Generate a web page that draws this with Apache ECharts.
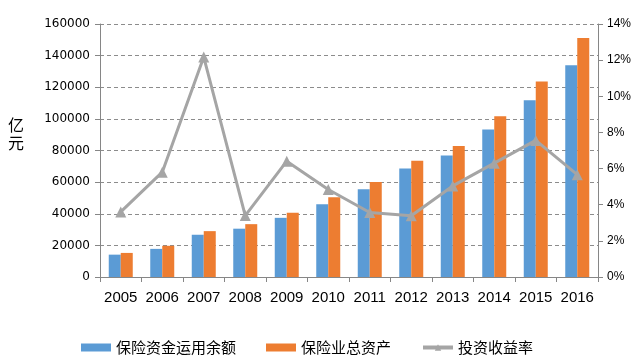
<!DOCTYPE html>
<html>
<head>
<meta charset="utf-8">
<script src="https://cdn.jsdelivr.net/npm/echarts@6/dist/echarts.min.js"></script>
<style>
html,body{margin:0;padding:0;background:#fff;}
#c{width:638px;height:364px;}
</style>
</head>
<body>
<div id="c"></div>
<script>
var years = ['2005','2006','2007','2008','2009','2010','2011','2012','2013','2014','2015','2016'];
var fundBalance = [14136, 17785, 26721, 30552, 37417, 46047, 55473, 68543, 76873, 93314, 111795, 133910];
var totalAssets = [15226, 19731, 29004, 33418, 40635, 50481, 60138, 73546, 82887, 101591, 123598, 151169];
var yieldRate = [3.6, 5.8, 12.17, 3.4, 6.41, 4.84, 3.57, 3.39, 5.04, 6.30, 7.56, 5.66];
var seriesNames = ['保险资金运用余额', '保险业总资产', '投资收益率'];
var unitChars = ['亿', '元'];

var chart = echarts.init(document.getElementById('c'));
var axisGray = '#868686';
chart.setOption({
  animation: false,
  backgroundColor: '#fff',
  grid: {left: 100, right: 40, top: 24, bottom: 87},
  legend: {
    left: 76, bottom: 4,
    itemWidth: 30, itemHeight: 8, itemGap: 30,
    textStyle: {fontSize: 15, color: '#000', fontFamily: 'Noto Sans CJK SC'},
    data: [
      {name: seriesNames[0], icon: 'rect'},
      {name: seriesNames[1], icon: 'rect'},
      {name: seriesNames[2], itemStyle: {color: '#A5A5A5'}, lineStyle: {width: 4, color: '#A5A5A5'}}
    ]
  },
  graphic: [{
    type: 'text', left: 8, top: 117,
    style: {text: unitChars[0], fontSize: 16, fill: '#000', fontFamily: 'Noto Sans CJK SC'}
  }, {
    type: 'text', left: 8, top: 135,
    style: {text: unitChars[1], fontSize: 16, fill: '#000', fontFamily: 'Noto Sans CJK SC'}
  }],
  xAxis: {
    type: 'category', data: years, boundaryGap: true,
    axisLine: {lineStyle: {color: axisGray}},
    axisTick: {show: true, alignWithLabel: false, interval: 0, length: 5, lineStyle: {color: axisGray}},
    axisLabel: {interval: 0, fontSize: 15, color: '#000', margin: 13, fontFamily: 'Liberation Sans'}
  },
  yAxis: [{
    type: 'value', min: 0, max: 160000, interval: 20000,
    axisLine: {show: true, lineStyle: {color: axisGray}},
    axisTick: {show: true, length: 5, lineStyle: {color: axisGray}},
    axisLabel: {fontSize: 12, color: '#000', margin: 10, fontFamily: 'DejaVu Sans', formatter: function (v) { return String(v); }},
    splitLine: {show: true, lineStyle: {color: '#8c8c8c', type: [4, 3]}}
  }, {
    type: 'value', min: 0, max: 14, interval: 2, position: 'right',
    axisLine: {show: true, lineStyle: {color: axisGray}},
    axisTick: {show: true, length: 5, lineStyle: {color: axisGray}},
    axisLabel: {fontSize: 12, color: '#000', margin: 9, fontFamily: 'Liberation Sans', formatter: '{value}%'},
    splitLine: {show: false}
  }],
  series: [{
    name: seriesNames[0], type: 'bar', data: fundBalance,
    barWidth: 12, barGap: '0%',
    itemStyle: {color: '#5B9BD5'}
  }, {
    name: seriesNames[1], type: 'bar', data: totalAssets,
    barWidth: 12, barGap: '0%',
    itemStyle: {color: '#ED7D31'}
  }, {
    name: seriesNames[2], type: 'line', data: yieldRate, yAxisIndex: 1,
    symbol: 'triangle', symbolSize: 11,
    lineStyle: {color: '#A5A5A5', width: 3},
    itemStyle: {color: '#A5A5A5'}
  }]
});
</script>
</body>
</html>
